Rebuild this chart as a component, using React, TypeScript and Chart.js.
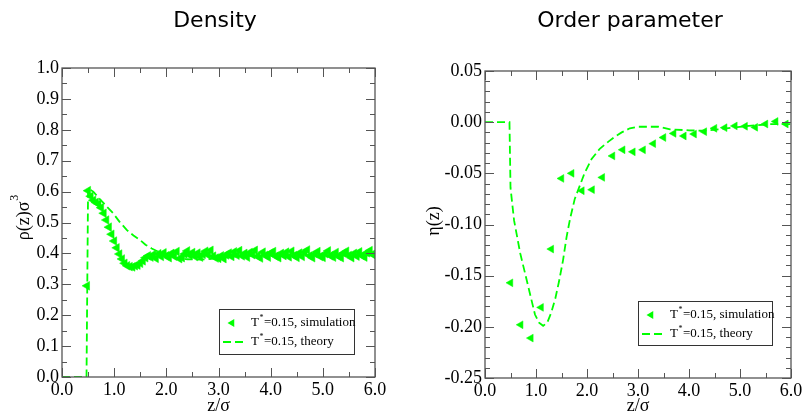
import React, { useEffect, useRef } from "react";
import { Chart, registerables } from "chart.js";

Chart.register(...registerables);

const GREEN = "#00ff00";
const SERIF = '"Liberation Serif", "Times New Roman", serif';
const SANS = '"DejaVu Sans", sans-serif';

// ---------------- Density panel data ----------------
const densitySimZ = [
  0.48,
  0.5, 0.55, 0.6, 0.65, 0.7, 0.75, 0.8, 0.85, 0.9, 0.95, 1.0,
  1.05, 1.1, 1.15, 1.2, 1.25, 1.3, 1.35, 1.4, 1.45, 1.5,
  1.55, 1.6, 1.65, 1.7, 1.75, 1.8, 1.85, 1.9, 1.95, 2.0,
  2.05, 2.1, 2.15, 2.2, 2.25, 2.3, 2.35, 2.4, 2.45, 2.5,
  2.55, 2.6, 2.65, 2.7, 2.75, 2.8, 2.85, 2.9, 2.95, 3.0,
  3.05, 3.1, 3.15, 3.2, 3.25, 3.3, 3.35, 3.4, 3.45, 3.5,
  3.55, 3.6, 3.65, 3.7, 3.75, 3.8, 3.85, 3.9, 3.95, 4.0,
  4.05, 4.1, 4.15, 4.2, 4.25, 4.3, 4.35, 4.4, 4.45, 4.5,
  4.55, 4.6, 4.65, 4.7, 4.75, 4.8, 4.85, 4.9, 4.95, 5.0,
  5.05, 5.1, 5.15, 5.2, 5.25, 5.3, 5.35, 5.4, 5.45, 5.5,
  5.55, 5.6, 5.65, 5.7, 5.75, 5.8, 5.85, 5.9, 5.95, 6.0,
];
const densitySimRho = [
  0.295,
  0.603, 0.585, 0.572, 0.565, 0.56, 0.548, 0.53, 0.508, 0.485, 0.462, 0.44,
  0.418, 0.398, 0.382, 0.368, 0.36, 0.357, 0.356, 0.36, 0.362, 0.368,
  0.376, 0.386, 0.392, 0.388, 0.396, 0.384, 0.399, 0.39, 0.402, 0.392,
  0.386, 0.4, 0.391, 0.406, 0.383, 0.386, 0.398, 0.408, 0.394, 0.403,
  0.39, 0.401, 0.388, 0.397, 0.407, 0.395, 0.41, 0.391, 0.385, 0.384,
  0.392, 0.383, 0.395, 0.401, 0.39, 0.405, 0.394, 0.409, 0.392, 0.4,
  0.388, 0.403, 0.396, 0.41, 0.391, 0.385, 0.404, 0.394, 0.388, 0.401,
  0.406, 0.391, 0.386, 0.4, 0.393, 0.404, 0.389, 0.407, 0.393, 0.387,
  0.401, 0.39, 0.404, 0.411, 0.392, 0.386, 0.399, 0.406, 0.39, 0.387,
  0.399, 0.408, 0.392, 0.388, 0.403, 0.391, 0.386, 0.401, 0.407, 0.393,
  0.386, 0.4, 0.391, 0.405, 0.393, 0.388, 0.402, 0.409, 0.397, 0.394,
];
const densityTheoryZ = [
  0.0, 0.47, 0.5, 0.6, 0.73, 0.85, 0.98, 1.1, 1.24, 1.37, 1.5, 1.6, 1.72,
  1.85, 2.0, 2.2, 2.4, 2.6, 2.8, 3.0, 3.3, 3.6, 4.0, 5.0, 6.0,
];
const densityTheoryRho = [
  0.0, 0.0, 0.61, 0.6, 0.575, 0.553, 0.53, 0.503, 0.476, 0.458, 0.443, 0.428,
  0.416, 0.405, 0.393, 0.385, 0.381, 0.38, 0.381, 0.385, 0.39, 0.392, 0.394,
  0.394, 0.394,
];
const densityXTicks = [0, 1, 2, 3, 4, 5, 6];
const densityYTicks = [0, 0.1, 0.2, 0.3, 0.4, 0.5, 0.6, 0.7, 0.8, 0.9, 1.0];

// ---------------- Order parameter panel data ----------------
const orderSimZ = [
  0.5, 0.7, 0.9, 1.1, 1.3, 1.5, 1.7, 1.9, 2.1, 2.3, 2.5, 2.7, 2.9, 3.1,
  3.3, 3.5, 3.7, 3.9, 4.1, 4.3, 4.5, 4.7, 4.9, 5.1, 5.3, 5.5, 5.7, 5.9,
];
const orderSimEta = [
  -0.157, -0.198, -0.211, -0.181, -0.124, -0.055, -0.05, -0.067, -0.066,
  -0.054, -0.033, -0.027, -0.029, -0.027, -0.021, -0.015, -0.011, -0.0135,
  -0.0116, -0.0093, -0.006, -0.0054, -0.0037, -0.004, -0.005, -0.0018,
  0.0007, -0.0018,
];
const orderTheoryZ = [
  0.0, 0.48, 0.5, 0.57, 0.69, 0.85, 0.98, 1.06, 1.14, 1.22, 1.3, 1.38, 1.45,
  1.53, 1.6, 1.67, 1.76, 1.86, 1.95, 2.09, 2.25, 2.42, 2.55, 2.68, 2.84, 3.0,
  3.4, 3.63, 4.0, 4.27, 4.6, 4.9, 5.3, 5.59, 6.0,
];
const orderTheoryEta = [
  0.0, 0.0, -0.064, -0.096, -0.128, -0.161, -0.188, -0.196, -0.199, -0.196,
  -0.186, -0.172, -0.156, -0.135, -0.112, -0.094, -0.075, -0.062, -0.05,
  -0.036, -0.026, -0.019, -0.014, -0.01, -0.006, -0.0045, -0.0045, -0.007,
  -0.008, -0.0083, -0.007, -0.005, -0.003, -0.002, -0.002,
];
const orderXTicks = [0, 1, 2, 3, 4, 5, 6];
const orderYTicks = [-0.25, -0.2, -0.15, -0.1, -0.05, 0, 0.05];

const legendLabels = ["=0.15, simulation", "=0.15, theory"];

// ---------------- chart building ----------------
type AxisSpec = {
  min: number;
  max: number;
  major: number[];
  minorStep: number;
  decimals: number;
};

type PanelSpec = {
  title: string;
  titleX: number;
  yTitle: string;
  ySup: string;
  yTitleX: number;
  yTitleY: number;
  xTitle: string;
  x: AxisSpec;
  y: AxisSpec;
  padding: { top: number; right: number; left: number; bottom: number };
  yWidth: number;
  xHeight: number;
  legend: { x: number; y: number; w: number; h: number };
  markerRadius: number;
  simZ: number[];
  simV: number[];
  thZ: number[];
  thV: number[];
};

const fmt = (v: number, d: number) => {
  const n = Math.abs(v) < 1e-9 ? 0 : v;
  return n.toFixed(d);
};

function makePlugin(spec: PanelSpec) {
  return {
    id: "frameText",
    afterDraw(chart: any) {
      const ctx: CanvasRenderingContext2D = chart.ctx;
      const a = chart.chartArea;
      const xs = chart.scales.x;
      const ys = chart.scales.y;
      ctx.save();
      ctx.strokeStyle = "#555";
      ctx.lineWidth = 1;
      const nx = Math.round((spec.x.max - spec.x.min) / spec.x.minorStep);
      for (let i = 0; i <= nx; i++) {
        const v = spec.x.min + i * spec.x.minorStep;
        const major = spec.x.major.some((m) => Math.abs(m - v) < 1e-9);
        const len = major ? 9 : 5;
        const p = Math.round(xs.getPixelForValue(v)) + 0.5;
        ctx.beginPath();
        ctx.moveTo(p, a.bottom);
        ctx.lineTo(p, a.bottom - len);
        ctx.moveTo(p, a.top);
        ctx.lineTo(p, a.top + len);
        ctx.stroke();
      }
      const ny = Math.round((spec.y.max - spec.y.min) / spec.y.minorStep);
      for (let i = 0; i <= ny; i++) {
        const v = spec.y.min + i * spec.y.minorStep;
        const major = spec.y.major.some((m) => Math.abs(m - v) < 1e-9);
        const len = major ? 9 : 5;
        const p = Math.round(ys.getPixelForValue(v)) + 0.5;
        ctx.beginPath();
        ctx.moveTo(a.left, p);
        ctx.lineTo(a.left + len, p);
        ctx.moveTo(a.right, p);
        ctx.lineTo(a.right - len, p);
        ctx.stroke();
      }
      ctx.strokeStyle = "#555";
      ctx.lineWidth = 1.3;
      ctx.strokeRect(a.left, a.top, a.right - a.left, a.bottom - a.top);

      ctx.fillStyle = "#000";
      ctx.font = `22px ${SANS}`;
      ctx.textAlign = "center";
      ctx.textBaseline = "alphabetic";
      ctx.fillText(spec.title, spec.titleX, 27);

      ctx.font = `18px ${SERIF}`;
      ctx.fillText(spec.xTitle, (a.left + a.right) / 2, 411);

      ctx.save();
      ctx.translate(spec.yTitleX, spec.yTitleY);
      ctx.rotate(-Math.PI / 2);
      ctx.textAlign = "left";
      ctx.textBaseline = "middle";
      ctx.font = `18px ${SERIF}`;
      const wm = ctx.measureText(spec.yTitle).width;
      ctx.font = `12px ${SERIF}`;
      const ws = spec.ySup ? ctx.measureText(spec.ySup).width + 1 : 0;
      const u0 = -(wm + ws) / 2;
      ctx.font = `18px ${SERIF}`;
      ctx.fillText(spec.yTitle, u0, 0);
      if (spec.ySup) {
        ctx.font = `12px ${SERIF}`;
        ctx.fillText(spec.ySup, u0 + wm + 1, -10);
      }
      ctx.restore();

      const L = spec.legend;
      ctx.fillStyle = "#fff";
      ctx.fillRect(L.x, L.y, L.w, L.h);
      ctx.strokeStyle = "#333";
      ctx.lineWidth = 1;
      ctx.strokeRect(Math.round(L.x) + 0.5, Math.round(L.y) + 0.5, Math.round(L.w), Math.round(L.h));
      const r1 = L.y + 14;
      const r2 = L.y + 33;
      const mx = L.x + 13;
      const r = 4.5;
      ctx.fillStyle = GREEN;
      ctx.beginPath();
      ctx.moveTo(mx - r, r1);
      ctx.lineTo(mx + r / 2, r1 - r * 0.866);
      ctx.lineTo(mx + r / 2, r1 + r * 0.866);
      ctx.closePath();
      ctx.fill();
      ctx.strokeStyle = GREEN;
      ctx.lineWidth = 1.8;
      ctx.setLineDash([8, 4]);
      ctx.beginPath();
      ctx.moveTo(L.x + 4, r2);
      ctx.lineTo(L.x + 25, r2);
      ctx.stroke();
      ctx.setLineDash([]);
      const drawLabel = (y: number, rest: string) => {
        const tx = L.x + 32;
        ctx.fillStyle = "#000";
        ctx.textAlign = "left";
        ctx.textBaseline = "middle";
        ctx.font = `13px ${SERIF}`;
        ctx.fillText("T", tx, y);
        let w = ctx.measureText("T").width + 0.5;
        ctx.font = `8px ${SERIF}`;
        ctx.fillText("*", tx + w, y - 5);
        w += ctx.measureText("*").width + 0.5;
        ctx.font = `13px ${SERIF}`;
        ctx.fillText(rest, tx + w, y);
      };
      drawLabel(r1, legendLabels[0]);
      drawLabel(r2, legendLabels[1]);
      ctx.restore();
    },
  };
}

function buildConfig(spec: PanelSpec): any {
  const sim = spec.simZ.map((z, i) => ({ x: z, y: spec.simV[i] }));
  const th = spec.thZ.map((z, i) => ({ x: z, y: spec.thV[i] }));
  const tickFont = { family: SERIF, size: 18 };
  return {
    type: "line",
    data: {
      datasets: [
        {
          label: "T*" + legendLabels[1],
          data: th,
          showLine: true,
          borderColor: GREEN,
          borderWidth: 1.8,
          borderDash: [8, 4],
          pointRadius: 0,
          tension: 0,
          fill: false,
        },
        {
          label: "T*" + legendLabels[0],
          data: sim,
          showLine: false,
          pointStyle: "triangle",
          pointRotation: 270,
          pointRadius: spec.markerRadius,
          pointBorderWidth: 0.5,
          pointBackgroundColor: GREEN,
          pointBorderColor: GREEN,
          backgroundColor: GREEN,
          borderColor: GREEN,
        },
      ],
    },
    options: {
      responsive: false,
      maintainAspectRatio: false,
      animation: false,
      devicePixelRatio: 1,
      events: [],
      layout: { padding: spec.padding },
      plugins: {
        legend: { display: false },
        title: { display: false },
        tooltip: { enabled: false },
      },
      scales: {
        x: {
          type: "linear",
          min: spec.x.min,
          max: spec.x.max,
          afterBuildTicks: (s: any) => {
            s.ticks = spec.x.major.map((v) => ({ value: v }));
          },
          afterFit: (s: any) => {
            s.height = spec.xHeight;
          },
          grid: { display: false, drawTicks: false },
          border: { display: false },
          ticks: {
            font: tickFont,
            color: "#000",
            padding: 2,
            maxRotation: 0,
            minRotation: 0,
            autoSkip: false,
            callback: (v: any) => fmt(Number(v), spec.x.decimals),
          },
        },
        y: {
          type: "linear",
          min: spec.y.min,
          max: spec.y.max,
          afterBuildTicks: (s: any) => {
            s.ticks = spec.y.major.map((v) => ({ value: v }));
          },
          afterFit: (s: any) => {
            s.width = spec.yWidth;
          },
          grid: { display: false, drawTicks: false },
          border: { display: false },
          ticks: {
            font: tickFont,
            color: "#000",
            padding: 3,
            autoSkip: false,
            callback: (v: any) => fmt(Number(v), spec.y.decimals),
          },
        },
      },
    },
    plugins: [makePlugin(spec)],
  };
}

const densitySpec: PanelSpec = {
  title: "Density",
  titleX: 215,
  yTitle: "ρ(z)σ",
  ySup: "3",
  yTitleX: 24.5,
  yTitleY: 217.5,
  xTitle: "z/σ",
  x: { min: 0, max: 6, major: densityXTicks, minorStep: 0.5, decimals: 1 },
  y: { min: 0, max: 1, major: densityYTicks, minorStep: 0.05, decimals: 1 },
  padding: { top: 68, right: 25, left: 0, bottom: 0 },
  yWidth: 62,
  xHeight: 37,
  legend: { x: 219, y: 309, w: 135, h: 45 },
  markerRadius: 5,
  simZ: densitySimZ,
  simV: densitySimRho,
  thZ: densityTheoryZ,
  thV: densityTheoryRho,
};

const orderSpec: PanelSpec = {
  title: "Order parameter",
  titleX: 230,
  yTitle: "η(z)",
  ySup: "",
  yTitleX: 34,
  yTitleY: 221,
  xTitle: "z/σ",
  x: { min: 0, max: 6, major: orderXTicks, minorStep: 0.5, decimals: 1 },
  y: { min: -0.25, max: 0.05, major: orderYTicks, minorStep: 0.01, decimals: 2 },
  padding: { top: 71, right: 15, left: 0, bottom: 0 },
  yWidth: 85,
  xHeight: 36,
  legend: { x: 238, y: 301, w: 134, h: 44 },
  markerRadius: 4.5,
  simZ: orderSimZ,
  simV: orderSimEta,
  thZ: orderTheoryZ,
  thV: orderTheoryEta,
};

function Panel({ spec, left, width }: { spec: PanelSpec; left: number; width: number }) {
  const ref = useRef<HTMLCanvasElement>(null);
  useEffect(() => {
    if (!ref.current) return;
    const chart = new Chart(ref.current, buildConfig(spec));
    return () => chart.destroy();
  }, [spec]);
  return (
    <canvas
      ref={ref}
      width={width}
      height={414}
      style={{ position: "absolute", left, top: 0, width, height: 414, display: "block" }}
    />
  );
}

export default function App() {
  return (
    <div
      style={{
        position: "fixed",
        left: 0,
        top: 0,
        width: 806,
        height: 414,
        background: "#fff",
        overflow: "hidden",
      }}
    >
      <Panel spec={densitySpec} left={0} width={400} />
      <Panel spec={orderSpec} left={400} width={406} />
    </div>
  );
}
